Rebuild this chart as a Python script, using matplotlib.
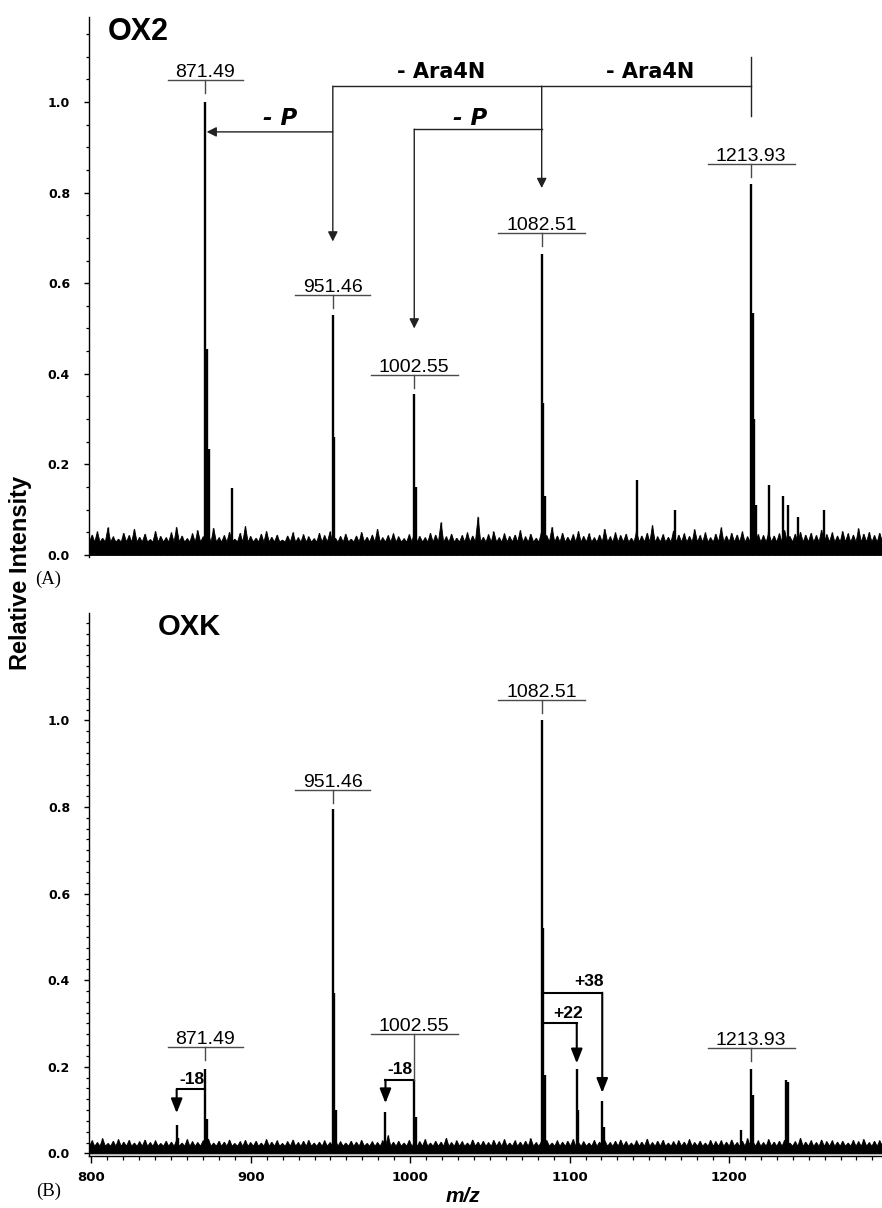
import matplotlib
matplotlib.use('Agg')
import matplotlib.pyplot as plt
import numpy as np
from matplotlib.ticker import MultipleLocator
from matplotlib.transforms import offset_copy

# ---------------- data ----------------
top_mz = [871.49, 872.49, 873.49, 888.0, 951.46, 952.46, 1002.55, 1003.55,
          1082.51, 1083.51, 1084.51, 1142.5, 1166.0, 1213.93, 1214.93, 1215.93,
          1216.93, 1224.8, 1233.6, 1237.3, 1243.0, 1259.3]
top_int = [1.0, 0.455, 0.235, 0.148, 0.53, 0.26, 0.355, 0.15,
           0.665, 0.335, 0.13, 0.165, 0.10, 0.82, 0.535, 0.30,
           0.11, 0.155, 0.13, 0.11, 0.085, 0.10]

bot_mz = [853.5, 854.5, 871.49, 872.49, 951.46, 952.46, 953.46, 984.5,
          1002.55, 1003.55, 1082.51, 1083.51, 1084.51, 1104.5, 1105.5,
          1120.5, 1121.5, 1207.5, 1213.93, 1214.93, 1235.9, 1236.9]
bot_int = [0.065, 0.035, 0.195, 0.08, 0.795, 0.37, 0.10, 0.095,
           0.17, 0.085, 1.0, 0.52, 0.18, 0.195, 0.10,
           0.12, 0.06, 0.055, 0.195, 0.135, 0.17, 0.165]

top_noise = [0.045,0.052,0.038,0.061,0.041,0.036,0.049,0.044,0.058,0.040,
             0.047,0.035,0.053,0.042,0.039,0.050,0.062,0.043,0.037,0.048,
             0.055,0.041,0.046,0.060,0.039,0.044,0.051,0.036,0.049,0.064,
             0.042,0.038,0.047,0.053,0.040,0.045,0.034,0.043,0.050,0.039,
             0.046,0.041,0.037,0.049,0.044,0.052,0.038,0.042,0.047,0.036,
             0.043,0.051,0.040,0.045,0.058,0.039,0.044,0.048,0.041,0.037,
             0.046,0.053,0.042,0.039,0.049,0.045,0.072,0.041,0.047,0.038,
             0.044,0.050,0.043,0.085,0.040,0.046,0.052,0.039,0.048,0.042,
             0.045,0.055,0.041,0.047,0.038,0.050,0.044,0.062,0.043,0.049,
             0.040,0.046,0.053,0.042,0.048,0.039,0.045,0.058,0.041,0.050,
             0.044,0.047,0.038,0.052,0.043,0.049,0.066,0.041,0.046,0.040,
             0.054,0.045,0.048,0.042,0.057,0.044,0.050,0.039,0.047,0.061,
             0.043,0.049,0.045,0.052,0.041,0.058,0.046,0.044,0.050,0.043,
             0.048,0.055,0.042,0.047,0.051,0.045,0.049,0.044,0.056,0.046,
             0.050,0.043,0.053,0.048,0.045,0.059,0.047,0.051,0.044,0.049]
bot_noise = [0.030,0.026,0.035,0.024,0.029,0.033,0.027,0.031,0.025,0.028,
             0.032,0.026,0.030,0.024,0.029,0.027,0.031,0.025,0.033,0.028,
             0.026,0.030,0.034,0.025,0.029,0.027,0.032,0.024,0.028,0.031,
             0.026,0.029,0.025,0.033,0.027,0.030,0.024,0.028,0.032,0.026,
             0.029,0.031,0.025,0.027,0.030,0.026,0.034,0.028,0.025,0.029,
             0.027,0.031,0.024,0.028,0.026,0.030,0.042,0.027,0.029,0.025,
             0.031,0.026,0.028,0.033,0.025,0.029,0.027,0.036,0.026,0.030,
             0.028,0.025,0.032,0.027,0.029,0.026,0.031,0.028,0.033,0.025,
             0.030,0.027,0.029,0.035,0.026,0.028,0.031,0.025,0.030,0.027,
             0.029,0.033,0.026,0.028,0.025,0.031,0.027,0.030,0.026,0.029,
             0.032,0.028,0.025,0.030,0.027,0.034,0.026,0.029,0.031,0.025,
             0.028,0.030,0.027,0.033,0.026,0.029,0.025,0.031,0.028,0.030,
             0.027,0.032,0.026,0.029,0.035,0.028,0.030,0.026,0.033,0.027,
             0.029,0.031,0.025,0.028,0.036,0.027,0.030,0.026,0.032,0.028,
             0.030,0.027,0.029,0.025,0.031,0.028,0.033,0.026,0.029,0.030]
top_noise_floor = 0.030
bot_noise_floor = 0.018

# labelled peaks: (m/z, peak height, label bar height)
top_labels = [(871.49, 1.0, 1.049), (951.46, 0.53, 0.574), (1002.55, 0.355, 0.397),
              (1082.51, 0.665, 0.711), (1213.93, 0.82, 0.863)]
bot_labels = [(871.49, 0.195, 0.245), (951.46, 0.795, 0.84), (1002.55, 0.17, 0.275),
              (1082.51, 1.0, 1.047), (1213.93, 0.195, 0.2425)]

xticks = [800, 900, 1000, 1100, 1200]
yticks = [0.0, 0.2, 0.4, 0.6, 0.8, 1.0]

# ---------------- layout ----------------
W, H = 882, 1208
fig = plt.figure(figsize=(W / 100, H / 100), dpi=100)


def px_axes(l, t, r, b):
    return [l / W, 1 - b / H, (r - l) / W, (b - t) / H]


ax1 = fig.add_axes(px_axes(89, 17, 882, 557))
ax2 = fig.add_axes(px_axes(89, 613, 882, 1156))
XLIM = (798.5, 1296)
ax1.set_xlim(XLIM)
ax1.set_ylim(-0.0044, 1.1876)
ax2.set_xlim(XLIM)
ax2.set_ylim(-0.006, 1.248)

SANS = 'Liberation Sans'
TICKF = 'DejaVu Sans'
LINE_C = '#222222'
BAR_C = '#4a4a4a'


def dpx(ax):
    bb = ax.get_window_extent()
    x0, x1 = ax.get_xlim()
    y0, y1 = ax.get_ylim()
    return (x1 - x0) / bb.width, (y1 - y0) / bb.height


for ax, noise, floor, mz, inten in [(ax1, top_noise, top_noise_floor, top_mz, top_int),
                                     (ax2, bot_noise, bot_noise_floor, bot_mz, bot_int)]:
    n = len(noise)
    nx = np.linspace(XLIM[0], XLIM[1], 2 * n + 1)
    ny = np.empty(2 * n + 1)
    ny[0::2] = floor
    ny[1::2] = noise
    ax.fill_between(nx, 0, ny, color='k', lw=0.6, edgecolor='k', zorder=2)
    ax.vlines(nx[1::2], 0, noise, color='k', lw=1.0, zorder=2)
    ax.vlines(mz, 0, inten, color='k', lw=1.7, zorder=3)
    ax.spines['top'].set_visible(False)
    ax.spines['right'].set_visible(False)
    ax.spines['left'].set_linewidth(1.0)
    ax.spines['bottom'].set_linewidth(1.0)
    ax.set_yticks(yticks)
    ax.set_yticklabels([f'{v:.1f}' for v in yticks], fontfamily=TICKF,
                       fontweight='bold', fontsize=9)
    ax.tick_params(axis='y', which='major', direction='out', length=3.6, width=1.0, pad=10)
    ax.tick_params(axis='y', which='minor', direction='out', length=2.2, width=0.9)

ax1.yaxis.set_minor_locator(MultipleLocator(0.05))
ax2.yaxis.set_minor_locator(MultipleLocator(0.025))
ax1.tick_params(axis='x', which='both', bottom=False, labelbottom=False)
ax1.spines['bottom'].set_visible(False)

ax2.set_xticks(xticks)
ax2.set_xticklabels([str(v) for v in xticks], fontfamily=TICKF, fontweight='bold', fontsize=9.5)
ax2.xaxis.set_minor_locator(MultipleLocator(10))
ax2.tick_params(axis='x', which='major', direction='out', length=5, width=1.0, pad=6)
ax2.tick_params(axis='x', which='minor', direction='out', length=2.9, width=0.9)


def label_peak(ax, mz, ph, bar_y, tick_bottom=None):
    sx, sy = dpx(ax)
    text = f'{mz:.2f}'
    halfw = (6 * len(text) + 1.5) * sx
    ax.plot([mz - halfw, mz + halfw], [bar_y, bar_y], color=BAR_C, lw=1.0, zorder=4)
    tb = bar_y - 13 * sy if tick_bottom is None else tick_bottom
    ax.plot([mz, mz], [bar_y, tb], color=BAR_C, lw=1.0, zorder=4)
    ax.text(mz, bar_y, text, ha='center', va='baseline', fontsize=14, fontfamily=SANS,
            transform=offset_copy(ax.transData, fig=fig, x=0, y=3, units='dots'), zorder=5)


for (mz, ph, by) in top_labels:
    label_peak(ax1, mz, ph, by)
for (mz, ph, by) in bot_labels:
    label_peak(ax2, mz, ph, by, tick_bottom=(0.17 if mz == 1002.55 else None))


def arrow(ax, start, end, lw, hl, hw, color=LINE_C):
    ax.annotate('', xy=end, xytext=start,
                arrowprops=dict(arrowstyle=f'-|>,head_length={hl / 10},head_width={hw / 10}',
                                mutation_scale=10, lw=lw, color=color,
                                shrinkA=0, shrinkB=0), zorder=6)


# ---- top panel fragmentation scheme ----
TLW = 1.0
ax1.plot([951.46, 1213.93], [1.035, 1.035], color=LINE_C, lw=TLW)
ax1.plot([1213.93, 1213.93], [0.97, 1.10], color=LINE_C, lw=TLW)
arrow(ax1, (951.46, 1.035), (951.46, 0.692), TLW, 5.8, 2.9)
arrow(ax1, (1082.51, 1.035), (1082.51, 0.81), TLW, 5.8, 2.9)
arrow(ax1, (951.46, 0.934), (872.3, 0.934), TLW, 5.8, 2.9)
ax1.plot([1082.51, 1002.55], [0.94, 0.94], color=LINE_C, lw=TLW)
arrow(ax1, (1002.55, 0.94), (1002.55, 0.50), TLW, 5.8, 2.9)
ax1.text(1019.6, 1.066, '- Ara4N', ha='center', va='center', fontsize=15,
         fontweight='bold', fontfamily=TICKF)
ax1.text(1150.6, 1.066, '- Ara4N', ha='center', va='center', fontsize=15,
         fontweight='bold', fontfamily=TICKF)
ax1.text(918.1, 0.964, '- P', ha='center', va='center', fontsize=16.5,
         fontweight='bold', fontstyle='italic', fontfamily=TICKF)
ax1.text(1037.5, 0.964, '- P', ha='center', va='center', fontsize=16.5,
         fontweight='bold', fontstyle='italic', fontfamily=TICKF)

# ---- bottom panel brackets ----
BLW = 1.5
ax2.plot([871.49, 853.5], [0.148, 0.148], color='k', lw=BLW)
arrow(ax2, (853.5, 0.148), (853.5, 0.093), BLW, 8.6, 3.4, color='k')
ax2.plot([1002.55, 984.5], [0.17, 0.17], color='k', lw=BLW)
arrow(ax2, (984.5, 0.17), (984.5, 0.116), BLW, 8.6, 3.4, color='k')
ax2.plot([1082.51, 1104.5], [0.30, 0.30], color='k', lw=BLW)
arrow(ax2, (1104.5, 0.30), (1104.5, 0.208), BLW, 8.6, 3.4, color='k')
ax2.plot([1082.51, 1120.5], [0.371, 0.371], color='k', lw=BLW)
arrow(ax2, (1120.5, 0.371), (1120.5, 0.14), BLW, 8.6, 3.4, color='k')
for x, y, t in [(863.0, 0.171, '-18'), (993.5, 0.194, '-18'),
                (1098.8, 0.323, '+22'), (1112.0, 0.398, '+38')]:
    ax2.text(x, y, t, ha='center', va='center', fontsize=12.5, fontweight='bold',
             fontfamily=SANS)

# ---- panel titles and figure texts ----
fig.text(108 / W, 1 - 40 / H, 'OX2', fontsize=22, fontweight='bold', fontfamily=SANS,
         ha='left', va='baseline')
fig.text(158 / W, 1 - 635 / H, 'OXK', fontsize=21, fontweight='bold', fontfamily=SANS,
         ha='left', va='baseline')
fig.text(21 / W, 1 - 573 / H, 'Relative Intensity', rotation=90, ha='center', va='center',
         fontsize=17, fontweight='bold', fontfamily=SANS)
fig.text(48.5 / W, 1 - 579 / H, '(A)', ha='center', va='center', fontsize=13.5,
         fontfamily='Liberation Serif')
fig.text(48.5 / W, 1 - 1191.7 / H, '(B)', ha='center', va='center', fontsize=13.5,
         fontfamily='Liberation Serif')
fig.text(463 / W, 1 - 1196 / H, 'm/z', ha='center', va='center', fontsize=15,
         fontweight='bold', fontstyle='italic', fontfamily=SANS)

fig.savefig('out.png', dpi=100)
